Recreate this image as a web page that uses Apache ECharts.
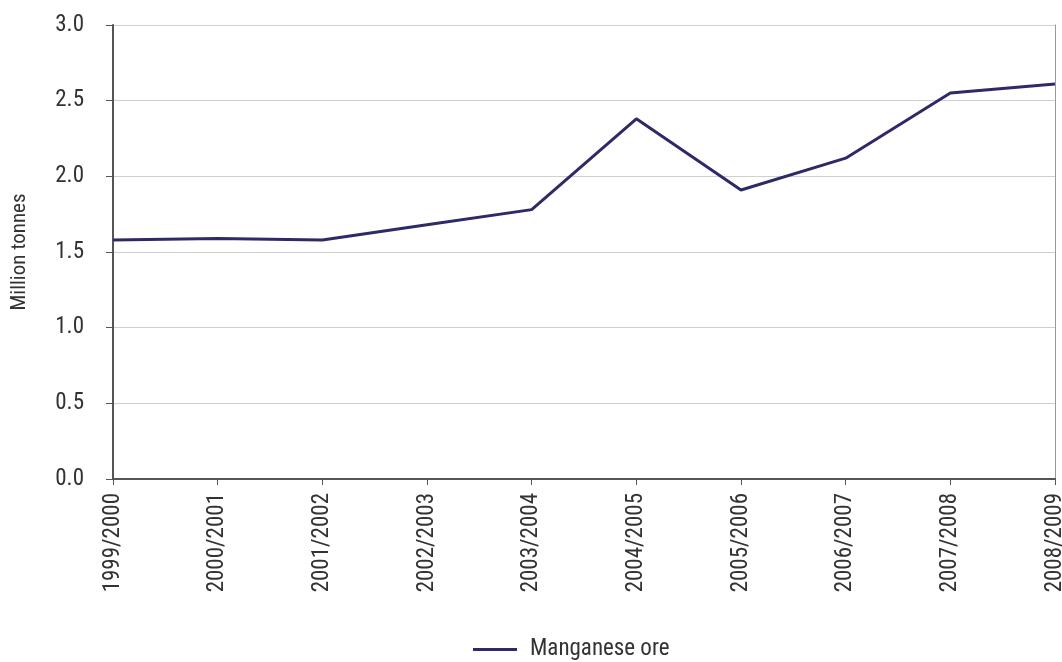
<!DOCTYPE html>
<html>
<head>
<meta charset="utf-8">
<script src="https://cdn.jsdelivr.net/npm/echarts@6/dist/echarts.min.js"></script>
<style>
  html, body { margin: 0; padding: 0; background: #fff; }
  #chart { width: 1062px; height: 662px; }
</style>
</head>
<body>
<div id="chart"></div>
<script>
var years = ['1999/2000', '2000/2001', '2001/2002', '2002/2003', '2003/2004',
             '2004/2005', '2005/2006', '2006/2007', '2007/2008', '2008/2009'];
var manganese = [1.58, 1.59, 1.58, 1.68, 1.78, 2.38, 1.91, 2.12, 2.55, 2.61];

var font = '"Liberation Sans Narrow", "Roboto Condensed", "Liberation Sans", sans-serif';
var chart = echarts.init(document.getElementById('chart'));
var option = {
    animation: false,
    textStyle: { fontFamily: font },
    grid: { left: 113, right: 7, top: 25, bottom: 183, containLabel: false, outerBoundsMode: 'none' },
    legend: {
        top: 633,
        left: 468,
        itemWidth: 44,
        itemHeight: 3,
        itemGap: 10,
        icon: 'rect',
        textStyle: { fontSize: 23, color: '#333', fontFamily: font, padding: [0, 0, 0, 8] },
        data: ['Manganese ore']
    },
    xAxis: {
        type: 'category',
        boundaryGap: false,
        data: years,
        axisLine: { lineStyle: { color: '#555', width: 2 } },
        axisTick: { show: true, length: 6, lineStyle: { color: '#555' } },
        axisLabel: { rotate: 90, margin: 14, fontSize: 23, color: '#333', fontFamily: font }
    },
    yAxis: [{
        type: 'value',
        min: 0,
        max: 3,
        interval: 0.5,
        name: 'Million tonnes',
        nameLocation: 'middle',
        nameGap: 83,
        nameTextStyle: { fontSize: 21, color: '#333', fontFamily: font },
        axisLine: { show: true, lineStyle: { color: '#555', width: 2 } },
        axisTick: { show: true, length: 7, lineStyle: { color: '#555' } },
        axisLabel: {
            margin: 29, fontSize: 23, color: '#333', fontFamily: font,
            formatter: function (v) { return v.toFixed(1); }
        },
        splitLine: { lineStyle: { color: '#d0d0d0', width: 1 } }
    }, {
        type: 'value',
        min: 0,
        max: 3,
        interval: 0.5,
        position: 'right',
        axisLine: { show: true, lineStyle: { color: '#999', width: 1 } },
        axisTick: { show: false },
        axisLabel: { show: false },
        splitLine: { show: false }
    }],
    series: [{
        name: 'Manganese ore',
        type: 'line',
        data: manganese,
        showSymbol: false,
        symbol: 'none',
        lineStyle: { color: '#2e2a68', width: 3 },
        itemStyle: { color: '#2e2a68' }
    }]
};
chart.setOption(option);
</script>
</body>
</html>
